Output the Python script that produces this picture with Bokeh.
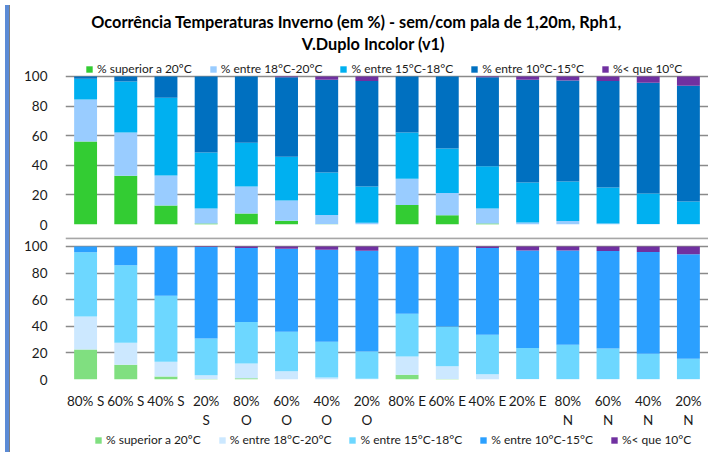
from bokeh.plotting import figure
from bokeh.models import (ColumnDataSource, FactorRange, Range1d, FixedTicker,
                          Legend, LegendItem, Label, Span, Div)
from bokeh.layouts import column, row
from bokeh.embed import file_html
from bokeh.resources import INLINE

# ---------------- data ----------------
categories = ["80% S", "60% S", "40% S", "20%\nS", "80%\nO", "60%\nO", "40%\nO", "20%\nO",
              "80% E", "60% E", "40% E", "20% E", "80%\nN", "60%\nN", "40%\nN", "20%\nN"]
series_names = ["% superior a 20ºC", "% entre 18°C-20°C", "% entre 15°C-18°C",
                "% entre 10°C-15°C", "%< que 10°C"]

# top panel (sem pala)
top_sup20 = [56.0, 33.0, 12.8, 0.7, 7.4, 2.5, 0.2, 0.0, 13.1, 6.3, 0.7, 0.0, 0.0, 0.0, 0.0, 0.0]
top_18_20 = [28.5, 29.2, 20.3, 10.1, 18.3, 13.7, 6.3, 1.1, 17.8, 14.9, 10.1, 1.4, 2.3, 0.7, 0.3, 0.2]
top_15_18 = [13.9, 34.4, 52.5, 37.8, 29.5, 29.5, 28.6, 24.6, 31.3, 30.2, 28.6, 27.0, 26.8, 24.3, 20.6, 15.3]
top_10_15 = [1.6, 3.4, 14.4, 51.4, 44.8, 53.8, 62.6, 71.2, 37.8, 48.6, 60.1, 69.3, 68.2, 71.9, 74.8, 78.2]
top_lt10 = [0.0, 0.0, 0.0, 0.0, 0.0, 0.5, 2.3, 3.1, 0.0, 0.0, 0.5, 2.3, 2.7, 3.1, 4.3, 6.3]

# bottom panel (com pala)
bot_sup20 = [22.5, 11.1, 2.2, 0.3, 1.0, 0.0, 0.0, 0.0, 3.5, 0.3, 0.0, 0.0, 0.0, 0.0, 0.0, 0.0]
bot_18_20 = [24.9, 16.6, 11.1, 2.9, 11.1, 6.2, 1.5, 0.5, 13.8, 9.6, 3.9, 0.3, 0.2, 0.2, 0.1, 0.1]
bot_15_18 = [48.2, 58.2, 49.7, 27.7, 31.1, 29.6, 26.9, 20.5, 32.1, 29.9, 29.7, 23.4, 26.0, 23.0, 19.2, 15.5]
bot_10_15 = [4.4, 14.1, 37.0, 68.6, 55.6, 62.5, 69.1, 75.8, 50.6, 60.2, 65.2, 73.3, 70.8, 73.3, 76.5, 78.5]
bot_lt10 = [0.0, 0.0, 0.0, 0.5, 1.2, 1.7, 2.5, 3.2, 0.0, 0.0, 1.2, 3.0, 3.0, 3.5, 4.2, 5.9]

y_ticks = [0, 20, 40, 60, 80, 100]

title_line1 = "Ocorrência Temperaturas Inverno (em %)  - sem/com pala de 1,20m, Rph1,"
title_line2 = "V.Duplo Incolor (v1)"

top_colors = ["#33CC33", "#99CCFF", "#00B0F0", "#0070C0", "#7030A0"]
bot_colors = ["#80DF80", "#CCE8FF", "#6DD7FF", "#2BA0FF", "#7030A0"]

FONT = "Lato"
TXT = "#1a1a1a"
keys = ["s1", "s2", "s3", "s4", "s5"]
W = 693


def make_legend(renderers, loc):
    return Legend(items=[LegendItem(label=n, renderers=[r]) for n, r in zip(series_names, renderers)],
                  orientation="horizontal", location=loc,
                  glyph_width=8, glyph_height=8, label_standoff=4, spacing=17,
                  padding=2, margin=0, label_height=12,
                  border_line_color=None, background_fill_alpha=0,
                  label_text_font=FONT, label_text_font_size="12px",
                  label_text_color=TXT)


def make_panel(values, colors, height, ymax, border_top, border_bottom):
    src = ColumnDataSource(dict(x=categories, **{k: v for k, v in zip(keys, values)}))
    p = figure(x_range=FactorRange(*categories, range_padding=0),
               y_range=Range1d(0, ymax), width=W, height=height,
               output_backend="svg", toolbar_location=None,
               min_border_left=50, min_border_right=0,
               min_border_top=border_top, min_border_bottom=border_bottom)
    rs = p.vbar_stack(keys, x="x", width=0.57, source=src, color=colors,
                      line_color=None)
    p.outline_line_color = None
    p.background_fill_color = "white"
    p.border_fill_color = "white"
    p.xgrid.visible = False
    p.ygrid.grid_line_color = "#8a8a8a"
    p.ygrid.grid_line_width = 1.6
    p.yaxis.ticker = FixedTicker(ticks=y_ticks)
    p.yaxis.axis_line_color = None
    p.yaxis.major_tick_line_color = None
    p.yaxis.minor_tick_line_color = None
    p.yaxis.major_label_standoff = 12
    p.yaxis.major_label_text_font = FONT
    p.yaxis.major_label_text_font_size = "13.5px"
    p.yaxis.major_label_text_color = TXT
    p.xaxis.axis_line_color = None
    p.xaxis.major_tick_line_color = None
    p.xaxis.minor_tick_line_color = None
    p.xaxis.major_label_text_font = FONT
    p.xaxis.major_label_text_font_size = "13.5px"
    p.xaxis.major_label_text_color = TXT
    p.xaxis.major_label_standoff = 7
    return p, rs, src


# top panel: frame spans 8 -> 224 px; 100 sits at 76 px
p1, rs1, _ = make_panel([top_sup20, top_18_20, top_15_18, top_10_15, top_lt10],
                        top_colors, 237, 145.9, 8, 13)
p1.xaxis.visible = False
p1.add_layout(make_legend(rs1, (20, 148)), "center")
for txt, xs, ys in [(title_line1, 7.29, 137.2), (title_line2, 7.66, 122.3)]:
    p1.add_layout(Label(x=xs, y=ys, text=txt, text_align="center", text_baseline="middle",
                        text_font=FONT, text_font_size="16.3px", text_font_style="bold",
                        text_color="black"))

# bottom panel: frame top at the separator line, 100 sits 9 px lower
p2, rs2, src2 = make_panel([bot_sup20, bot_18_20, bot_15_18, bot_10_15, bot_lt10],
                           bot_colors, 193, 106.7, 0, 49)
p2.add_layout(Span(location=106.1, dimension="width", line_color="#a6a6a6",
                   line_width=2))

# strip holding the bottom legend (same series, zero-width bars kept out of view)
p3 = figure(x_range=FactorRange(*categories, range_padding=0), y_range=Range1d(-20, -10),
            width=W, height=18, output_backend="svg", toolbar_location=None,
            x_axis_location=None, y_axis_location=None,
            min_border_left=50, min_border_right=0, min_border_top=0, min_border_bottom=0)
rs3 = p3.vbar_stack(keys, x="x", width=0.0, source=src2, color=bot_colors, line_color=None)
p3.grid.visible = False
p3.outline_line_color = None
p3.add_layout(make_legend(rs3, (29, 1)), "center")

side = Div(width=5, height=448, styles={"background-color": "#5B8BD6",
                                        "border-right": "1px solid #7f7f7f"})
layout = row(side, column(p1, p2, p3, spacing=0), spacing=0)

with open("out.html", "w") as f:
    f.write(file_html(layout, INLINE))
